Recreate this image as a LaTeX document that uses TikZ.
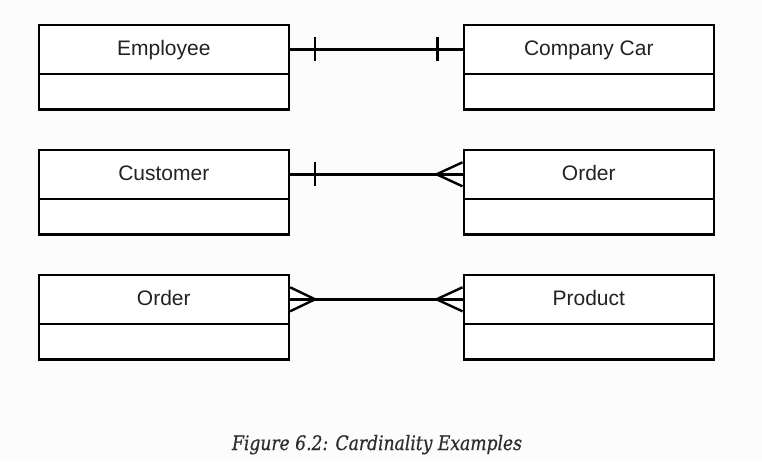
\documentclass[tikz,border=0pt]{standalone}
\usepackage{fontspec}
\setmainfont{Liberation Sans}
\newfontfamily\capfont[FakeStretch=0.86,FakeBold=0.6]{DejaVu Serif}
\usetikzlibrary{positioning}
\definecolor{bgc}{HTML}{FCFCFC}
\definecolor{txtc}{HTML}{222222}
\definecolor{capc}{HTML}{2E2E2E}
\tikzset{
  head/.style={draw=black, line width=2.6pt, fill=white, minimum width=250pt, minimum height=49pt,
    inner sep=0pt, text height=12pt, text depth=0pt, font=\fontsize{21}{24}\selectfont, text=txtc, anchor=north west},
  body/.style={draw=black, line width=2.6pt, fill=white, minimum width=250pt, minimum height=35.5pt,
    inner sep=0pt, anchor=north west},
  rel/.style={draw=black, line width=2.4pt},
  tickmark/.style={draw=black, line width=2.4pt}
}
\begin{document}
\begin{tikzpicture}[x=1pt,y=-1pt]
\fill[bgc] (0,0) rectangle (762,461);
\useasboundingbox (0,0) rectangle (762,461);
% Row 1
\node[head] (emp) at (37.5,23.5) {Employee};
\node[body] (empb) at (37.5,72.5) {};
\node[head] (car) at (462.5,23.5) {Company Car};
\node[body] (carb) at (462.5,72.5) {};
% Row 2
\node[head] (cus) at (37.5,148.5) {Customer};
\node[body] (cusb) at (37.5,197.5) {};
\node[head] (ord) at (462.5,148.5) {Order};
\node[body] (ordb) at (462.5,197.5) {};
% Row 3
\node[head] (ord2) at (37.5,273.5) {Order};
\node[body] (ord2b) at (37.5,322.5) {};
\node[head] (prod) at (462.5,273.5) {Product};
\node[body] (prodb) at (462.5,322.5) {};
% Connector 1: one-to-one
\draw[rel] (emp.east) -- (car.west);
\draw[tickmark] ([xshift=25pt,yshift=12pt]emp.east) -- ([xshift=25pt,yshift=-12pt]emp.east);
\draw[tickmark] ([xshift=-25pt,yshift=12pt]car.west) -- ([xshift=-25pt,yshift=-12pt]car.west);
% Connector 2: one-to-many
\draw[rel] (cus.east) -- (ord.west);
\draw[tickmark] ([xshift=25pt,yshift=12pt]cus.east) -- ([xshift=25pt,yshift=-12pt]cus.east);
\coordinate (c2) at ([xshift=-26pt]ord.west);
\draw[tickmark] ([yshift=12pt]ord.west) -- (c2) -- ([yshift=-12pt]ord.west);
% Connector 3: many-to-many
\draw[rel] (ord2.east) -- (prod.west);
\coordinate (c3a) at ([xshift=25pt]ord2.east);
\coordinate (c3b) at ([xshift=-26pt]prod.west);
\draw[tickmark] ([yshift=12pt]ord2.east) -- (c3a) -- ([yshift=-12pt]ord2.east);
\draw[tickmark] ([yshift=12pt]prod.west) -- (c3b) -- ([yshift=-12pt]prod.west);
% Caption
\node[anchor=base, text=capc, inner sep=0pt] (cap) at (377,450)
  {\resizebox{290pt}{!}{\capfont\itshape\fontsize{16}{18}\selectfont Figure 6.2: Cardinality Examples}};
\end{tikzpicture}
\end{document}
